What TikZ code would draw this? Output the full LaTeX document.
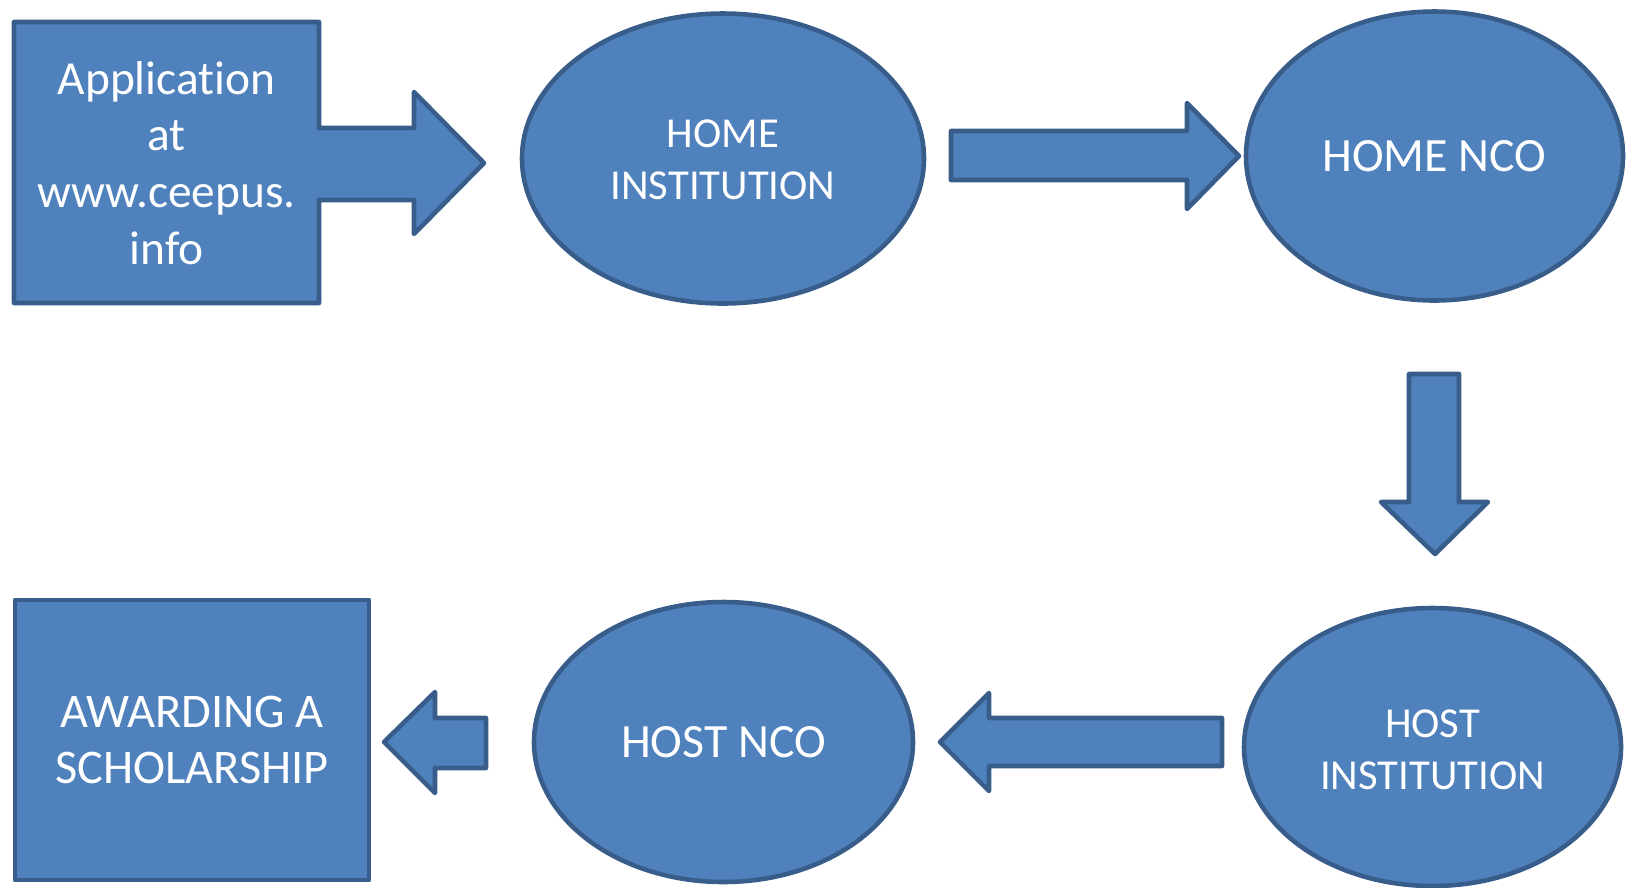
\documentclass[tikz,border=0pt]{standalone}
\usepackage{fontspec}
\setmainfont{Carlito}[Ligatures=NoCommon]
\usetikzlibrary{shapes.geometric}
\definecolor{boxfill}{HTML}{4F81BD}
\definecolor{boxline}{HTML}{385D8A}
\tikzset{
  blk/.style={fill=boxfill, draw=boxline, line width=2.6pt, line join=round},
  oval/.style={blk, ellipse, inner sep=0pt},
  lbl/.style={text=white, align=center, inner sep=0pt},
}
\begin{document}
\begin{tikzpicture}[x=0.02cm, y=-0.02cm]
\useasboundingbox (0,0) rectangle (1629,887);
% start callout box with arrow
\draw[blk] (14,22) -- (319,22) -- (319,128) -- (414,128) -- (414,92) -- (484,163)
  -- (414,234) -- (414,200) -- (319,200) -- (319,303) -- (14,303) -- cycle;
\node[lbl, font=\fontsize{27}{32.3}\selectfont] (app) at (166.5,163) {Application\\at\\www.ceepus.\\info};
% ellipses
\node[oval, minimum width=402*0.02cm, minimum height=290*0.02cm] (hi) at (723,158.5) {};
\node[lbl, font=\fontsize{24.3}{29.5}\selectfont] at ([yshift=-0.03cm]hi.center) {HOME\\INSTITUTION};
\node[oval, minimum width=377*0.02cm, minimum height=289*0.02cm] (hn) at (1434.5,156) {};
\node[lbl, font=\fontsize{27.2}{32}\selectfont] at (hn.center) {HOME NCO};
\node[oval, minimum width=377*0.02cm, minimum height=278*0.02cm] (hsi) at (1432.5,747) {};
\node[lbl, font=\fontsize{24.3}{29.5}\selectfont] at ([yshift=-0.06cm]hsi.center) {HOST\\INSTITUTION};
\node[oval, minimum width=379*0.02cm, minimum height=280*0.02cm] (hsn) at (723.5,742) {};
\node[lbl, font=\fontsize{27.2}{32}\selectfont] at (hsn.center) {HOST NCO};
% final box
\node[blk, minimum width=354*0.02cm, minimum height=280*0.02cm, inner sep=0pt] (aw) at (192,740) {};
\node[lbl, font=\fontsize{27.5}{32.3}\selectfont] at (aw.center) {AWARDING A\\SCHOLARSHIP};
% block arrows
\draw[blk] (951,131) -- (1187,131) -- (1187,103) -- (1239,156) -- (1187,209) -- (1187,180) -- (951,180) -- cycle;
\draw[blk] (1409,374) -- (1459,374) -- (1459,502) -- (1488,502) -- (1435,554) -- (1381,502) -- (1409,502) -- cycle;
\draw[blk] (1222,718) -- (989,718) -- (989,693) -- (940,742) -- (989,791) -- (989,766) -- (1222,766) -- cycle;
\draw[blk] (486,718) -- (435,718) -- (435,692) -- (384,742) -- (435,793) -- (435,768) -- (486,768) -- cycle;
\end{tikzpicture}
\end{document}
